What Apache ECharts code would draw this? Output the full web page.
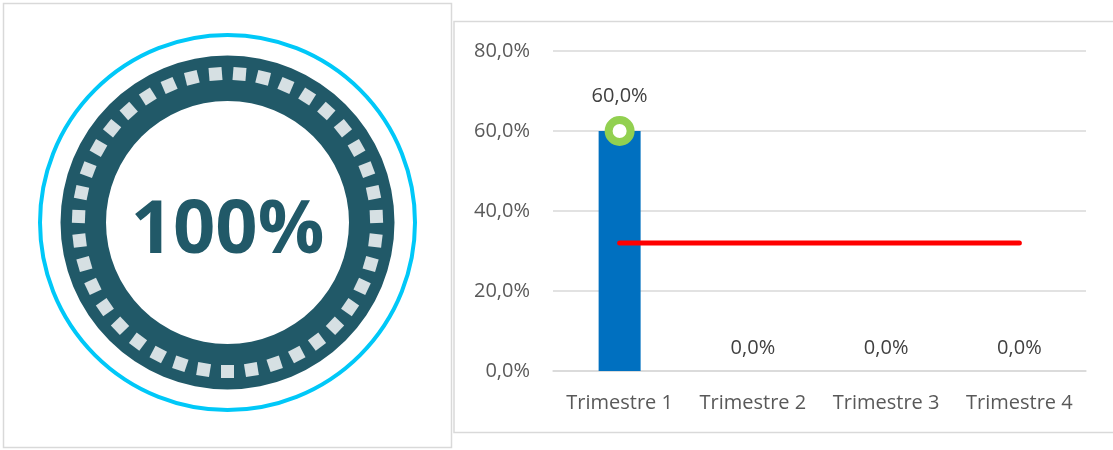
<!DOCTYPE html>
<html><head><meta charset="utf-8">
<script src="https://cdn.jsdelivr.net/npm/echarts@6/dist/echarts.min.js"></script>
<style>html,body{margin:0;padding:0;background:#fff}#c{width:1113px;height:450px}</style>
</head><body><div id="c"></div>
<script>
const gaugeValue = [100];
const categories = ['Trimestre 1', 'Trimestre 2', 'Trimestre 3', 'Trimestre 4'];
const realValues = [60, 0, 0, 0];
const markerValues = [60, null, null, null];
const targetValues = [32, 32, 32, 32];
const yTicks = [0, 20, 40, 60, 80];

function pct(v) { return Number(v).toFixed(1).replace('.', ',') + '%'; }
const FONT = 'Open Sans';
const chart = echarts.init(document.getElementById('c'), null, { renderer: 'canvas' });
chart.setOption({
  animation: false,
  backgroundColor: '#fff',
  graphic: [
    { type: 'rect', shape: { x: 3.5, y: 3.5, width: 448, height: 444 }, style: { fill: 'none', stroke: '#d9d9d9', lineWidth: 1.5 } },
    { type: 'rect', shape: { x: 454, y: 21.5, width: 700, height: 411 }, style: { fill: 'none', stroke: '#d9d9d9', lineWidth: 1.5 } },
    { type: 'circle', shape: { cx: 227.5, cy: 222.5, r: 187.5 }, style: { fill: 'none', stroke: '#00c8f8', lineWidth: 4 } }
  ],
  grid: { left: 553, right: 27, top: 51, bottom: 79 },
  xAxis: {
    type: 'category', data: categories,
    axisLine: { show: true, lineStyle: { color: '#d9d9d9', width: 1.5 } },
    axisTick: { show: false },
    axisLabel: { interval: 0, color: '#595959', fontSize: 20, fontFamily: FONT, margin: 22 }
  },
  yAxis: {
    type: 'value', min: yTicks[0], max: yTicks[yTicks.length - 1], interval: yTicks[1] - yTicks[0],
    axisLine: { show: false }, axisTick: { show: false },
    axisLabel: { formatter: v => pct(v), color: '#595959', fontSize: 20, fontFamily: FONT, margin: 23 },
    splitLine: { lineStyle: { color: '#d9d9d9', width: 1.5 } }
  },
  series: [
    {
      type: 'gauge', center: [227.5, 222.5], radius: 167,
      startAngle: -90, endAngle: -450, min: 0, max: 100, splitNumber: 39,
      axisLine: { lineStyle: { width: 45.5, color: [[1, '#215968']] } },
      progress: { show: false }, pointer: { show: false }, anchor: { show: false }, title: { show: false },
      axisTick: { show: false }, axisLabel: { show: false },
      splitLine: { show: true, distance: -34, length: 13, lineStyle: { width: 13, color: '#d6e0e3', cap: 'butt' } },
      detail: { valueAnimation: false, offsetCenter: [0, 9], formatter: '{value}%', fontSize: 74, fontWeight: 'bold', fontFamily: FONT, color: '#215968' },
      data: [{ value: gaugeValue[0] }]
    },
    {
      type: 'bar', barWidth: 42,
      data: realValues.map((v, i) => ({ value: v, label: { show: markerValues[i] == null } })),
      itemStyle: { color: '#0070c0' },
      label: { position: 'top', distance: 13, formatter: p => pct(p.value), color: '#404040', fontSize: 20, fontFamily: FONT }
    },
    {
      type: 'line', data: targetValues, symbol: 'none', z: 3,
      lineStyle: { color: '#ff0000', width: 5, cap: 'round' }
    },
    {
      type: 'scatter', data: markerValues, symbol: 'circle', symbolSize: 22, z: 4,
      itemStyle: { color: '#ffffff', borderColor: '#92d050', borderWidth: 8, opacity: 1 },
      label: { show: true, position: 'top', distance: 10, formatter: p => pct(p.value), color: '#404040', fontSize: 20, fontFamily: FONT }
    }
  ]
});
</script></body></html>
